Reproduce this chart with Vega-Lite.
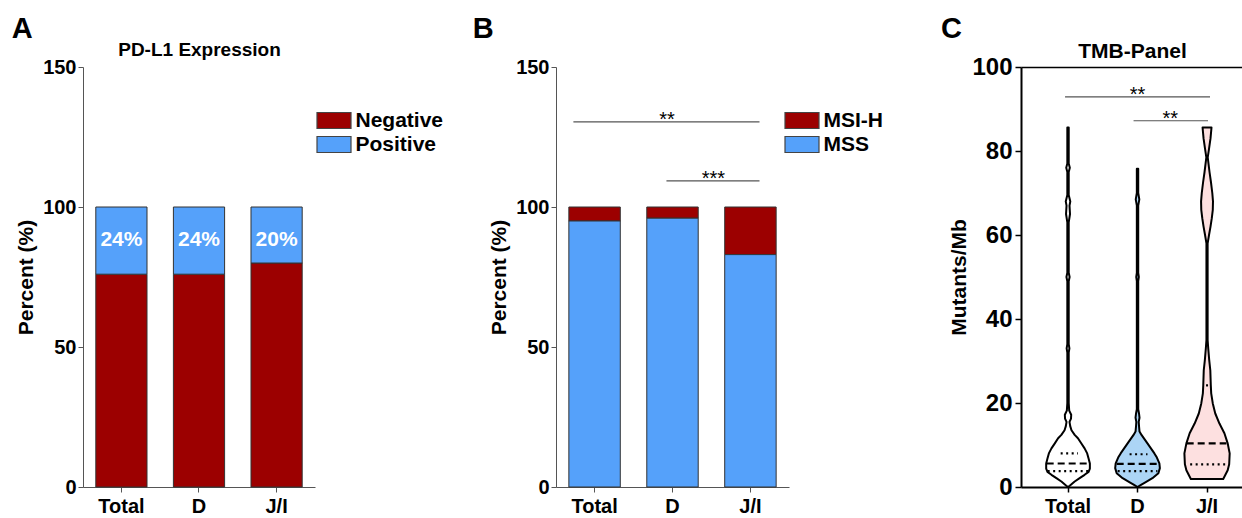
{
  "$schema": "https://vega.github.io/schema/vega-lite/v6.json",
  "padding": {"left": 11, "top": 15, "right": 0, "bottom": 0},
  "config": {
    "font": "Liberation Sans",
    "view": {"stroke": null},
    "axis": {"labelFont": "Liberation Sans", "titleFont": "Liberation Sans", "labelFontWeight": "bold", "titleFontWeight": "bold", "labelColor": "black", "titleColor": "black", "grid": false},
    "legend": {"labelFont": "Liberation Sans"},
    "title": {"font": "Liberation Sans", "color": "black"}
  },
  "spacing": 28,
  "resolve": {"scale": {"x": "independent", "y": "independent", "color": "independent", "xOffset": "independent", "fill": "independent", "strokeDash": "independent"}, "legend": {"color": "independent"}},
  "hconcat": [
    {
      "width": 232,
      "height": 420,
      "title": {"text": "A", "anchor": "start", "frame": "bounds", "fontSize": 29, "fontWeight": "bold", "offset": -4, "dx": -4},
      "data": {"values": [
        {"group": "Total", "expr": "Negative", "pct": 76},
        {"group": "Total", "expr": "Positive", "pct": 24},
        {"group": "D", "expr": "Negative", "pct": 76},
        {"group": "D", "expr": "Positive", "pct": 24},
        {"group": "J/I", "expr": "Negative", "pct": 80},
        {"group": "J/I", "expr": "Positive", "pct": 20}
      ]},
      "layer": [
        {
          "mark": {"type": "bar", "stroke": "#333", "strokeWidth": 1},
          "encoding": {
            "x": {"field": "group", "type": "nominal", "sort": ["Total", "D", "J/I"], "scale": {"paddingInner": 0.34, "paddingOuter": 0.165},
              "axis": {"orient": "bottom", "title": null, "labelAngle": 0, "labelFontSize": 20, "domainColor": "#555", "tickColor": "#555", "tickSize": 5, "labelPadding": 4}},
            "y": {"field": "pct", "type": "quantitative", "stack": "zero", "scale": {"domain": [0, 150], "nice": false},
              "axis": {"title": "Percent (%)", "values": [0, 50, 100, 150], "titleFontSize": 21, "labelFontSize": 20, "domainColor": "#555", "tickColor": "#555", "tickSize": 5, "labelPadding": 2, "titlePadding": 6}},
            "color": {"field": "expr", "type": "nominal", "scale": {"domain": ["Negative", "Positive"], "range": ["#9c0000", "#55a1fa"]},
              "legend": {"title": null, "orient": "none", "legendX": 240.5, "legendY": 43, "padding": 0, "symbolType": "M-2,-0.94H2V0.94H-2Z", "symbolSize": 289, "labelFontSize": 21, "labelFontWeight": "bold", "labelColor": "black", "symbolStrokeColor": "#444", "symbolStrokeWidth": 1.2, "rowPadding": 2, "labelOffset": 11}},
            "order": {"field": "expr", "sort": "ascending"}
          }
        },
        {
          "transform": [{"filter": "datum.expr === 'Positive'"}],
          "mark": {"type": "text", "color": "white", "fontSize": 21, "fontWeight": "bold", "baseline": "middle", "dy": 33, "text": {"expr": "datum.pct + '%'"}},
          "encoding": {
            "x": {"field": "group", "type": "nominal", "sort": ["Total", "D", "J/I"],
              "axis": {"orient": "top", "title": "PD-L1 Expression", "titleFontSize": 19, "domain": false, "ticks": false, "labels": false, "titlePadding": 8}},
            "y": {"datum": 100, "type": "quantitative"}
          }
        }
      ],
      "resolve": {"axis": {"x": "independent"}}
    },
    {
      "spacing": 56,
      "resolve": {"scale": {"x": "independent", "y": "independent", "color": "independent", "xOffset": "independent", "fill": "independent", "strokeDash": "independent"}, "legend": {"color": "independent"}},
      "hconcat": [
        {
          "width": 233,
          "height": 420,
          "title": {"text": "B", "anchor": "start", "frame": "bounds", "fontSize": 29, "fontWeight": "bold", "offset": 13, "dx": -16},
          "layer": [
            {
              "data": {"values": [
                {"group": "Total", "status": "MSI-H", "pct": 5},
                {"group": "Total", "status": "MSS", "pct": 95},
                {"group": "D", "status": "MSI-H", "pct": 4},
                {"group": "D", "status": "MSS", "pct": 96},
                {"group": "J/I", "status": "MSI-H", "pct": 17},
                {"group": "J/I", "status": "MSS", "pct": 83}
              ]},
              "mark": {"type": "bar", "stroke": "#333", "strokeWidth": 1, "width": {"band": 1}},
              "encoding": {
                "x": {"field": "group", "type": "nominal", "sort": ["Total", "D", "J/I"], "scale": {"paddingInner": 0.34, "paddingOuter": 0.165},
                  "axis": {"title": null, "labelAngle": 0, "labelFontSize": 20, "domainColor": "#555", "tickColor": "#555", "tickSize": 5, "labelPadding": 4}},
                "y": {"field": "pct", "type": "quantitative", "stack": "zero", "scale": {"domain": [0, 150], "nice": false},
                  "axis": {"title": "Percent (%)", "values": [0, 50, 100, 150], "titleFontSize": 21, "labelFontSize": 20, "domainColor": "#555", "tickColor": "#555", "tickSize": 5, "labelPadding": 2, "titlePadding": 6}},
                "color": {"field": "status", "type": "nominal", "scale": {"domain": ["MSI-H", "MSS"], "range": ["#9c0000", "#55a1fa"]},
                  "legend": {"title": null, "orient": "none", "legendX": 235.5, "legendY": 43, "padding": 0, "symbolType": "M-2,-0.94H2V0.94H-2Z", "symbolSize": 289, "labelFontSize": 21, "labelFontWeight": "bold", "labelColor": "black", "symbolStrokeColor": "#444", "symbolStrokeWidth": 1.2, "rowPadding": 2, "labelOffset": 11}},
                "order": {"field": "status", "sort": "descending"}
              }
            },
            {
              "layer": [
                {
                  "data": {"values": [
                    {"id": "a", "group": "Total", "off": -21, "pct": 130.4},
                    {"id": "a", "group": "J/I", "off": 9, "pct": 130.4},
                    {"id": "b", "group": "D", "off": -6, "pct": 109.3},
                    {"id": "b", "group": "J/I", "off": 9, "pct": 109.3}
                  ]},
                  "mark": {"type": "line", "color": "#555", "strokeWidth": 1.2},
                  "encoding": {
                    "x": {"field": "group", "type": "nominal", "sort": ["Total", "D", "J/I"]},
                    "xOffset": {"field": "off", "type": "quantitative", "scale": {"domain": [-25.5, 25.5]}},
                    "y": {"field": "pct", "type": "quantitative"},
                    "detail": {"field": "id"}
                  }
                },
                {
                  "data": {"values": [
                    {"group": "D", "off": -5.5, "pct": 130.4, "stars": "**"},
                    {"group": "D", "off": 40.5, "pct": 109.3, "stars": "***"}
                  ]},
                  "mark": {"type": "text", "fontSize": 20, "baseline": "alphabetic", "align": "center", "dy": 4, "color": "black"},
                  "encoding": {
                    "x": {"field": "group", "type": "nominal", "sort": ["Total", "D", "J/I"]},
                    "xOffset": {"field": "off", "type": "quantitative"},
                    "y": {"field": "pct", "type": "quantitative"},
                    "text": {"field": "stars"}
                  }
                }
              ]
            }
          ],
          "resolve": {"scale": {"xOffset": "independent"}}
        },
        {
          "width": 222,
          "height": 420,
          "title": {"text": "C", "anchor": "start", "frame": "bounds", "fontSize": 29, "fontWeight": "bold", "offset": -4, "dx": -8},
          "layer": [
            {
              "data": {"values": [
                {"g": "Total", "i": 0, "v": 0, "w": 0},
                {"g": "Total", "i": 1, "v": 0.3, "w": -1.7},
                {"g": "Total", "i": 2, "v": 1.3, "w": -6.7},
                {"g": "Total", "i": 3, "v": 2.1, "w": -11.7},
                {"g": "Total", "i": 4, "v": 2.9, "w": -16.7},
                {"g": "Total", "i": 5, "v": 3.6, "w": -20.7},
                {"g": "Total", "i": 6, "v": 4.4, "w": -22},
                {"g": "Total", "i": 7, "v": 5.6, "w": -22},
                {"g": "Total", "i": 8, "v": 6.8, "w": -20.7},
                {"g": "Total", "i": 9, "v": 8, "w": -19.3},
                {"g": "Total", "i": 10, "v": 9.2, "w": -16.7},
                {"g": "Total", "i": 11, "v": 10.4, "w": -13.3},
                {"g": "Total", "i": 12, "v": 11.6, "w": -10},
                {"g": "Total", "i": 13, "v": 12.4, "w": -6.7},
                {"g": "Total", "i": 14, "v": 13.5, "w": -3.5},
                {"g": "Total", "i": 15, "v": 14.5, "w": -2.2},
                {"g": "Total", "i": 16, "v": 15.5, "w": -1.5},
                {"g": "Total", "i": 17, "v": 16.3, "w": -3},
                {"g": "Total", "i": 18, "v": 17.2, "w": -3.2},
                {"g": "Total", "i": 19, "v": 18.2, "w": -1.2},
                {"g": "Total", "i": 20, "v": 20, "w": -0.7},
                {"g": "Total", "i": 21, "v": 32, "w": -0.7},
                {"g": "Total", "i": 22, "v": 33, "w": -1.4},
                {"g": "Total", "i": 23, "v": 34, "w": -0.7},
                {"g": "Total", "i": 24, "v": 49, "w": -0.7},
                {"g": "Total", "i": 25, "v": 50, "w": -1.6},
                {"g": "Total", "i": 26, "v": 51, "w": -0.7},
                {"g": "Total", "i": 27, "v": 63, "w": -0.7},
                {"g": "Total", "i": 28, "v": 65, "w": -2},
                {"g": "Total", "i": 29, "v": 67, "w": -1.5},
                {"g": "Total", "i": 30, "v": 68, "w": -2.3},
                {"g": "Total", "i": 31, "v": 69.5, "w": -0.7},
                {"g": "Total", "i": 32, "v": 75, "w": -0.7},
                {"g": "Total", "i": 33, "v": 76, "w": -1.8},
                {"g": "Total", "i": 34, "v": 77, "w": -0.7},
                {"g": "Total", "i": 35, "v": 85.6, "w": -0.7},
                {"g": "Total", "i": 36, "v": 85.6, "w": 0.7},
                {"g": "Total", "i": 37, "v": 77, "w": 0.7},
                {"g": "Total", "i": 38, "v": 76, "w": 1.8},
                {"g": "Total", "i": 39, "v": 75, "w": 0.7},
                {"g": "Total", "i": 40, "v": 69.5, "w": 0.7},
                {"g": "Total", "i": 41, "v": 68, "w": 2.3},
                {"g": "Total", "i": 42, "v": 67, "w": 1.5},
                {"g": "Total", "i": 43, "v": 65, "w": 2},
                {"g": "Total", "i": 44, "v": 63, "w": 0.7},
                {"g": "Total", "i": 45, "v": 51, "w": 0.7},
                {"g": "Total", "i": 46, "v": 50, "w": 1.6},
                {"g": "Total", "i": 47, "v": 49, "w": 0.7},
                {"g": "Total", "i": 48, "v": 34, "w": 0.7},
                {"g": "Total", "i": 49, "v": 33, "w": 1.4},
                {"g": "Total", "i": 50, "v": 32, "w": 0.7},
                {"g": "Total", "i": 51, "v": 20, "w": 0.7},
                {"g": "Total", "i": 52, "v": 18.2, "w": 1.2},
                {"g": "Total", "i": 53, "v": 17.2, "w": 3.2},
                {"g": "Total", "i": 54, "v": 16.3, "w": 3},
                {"g": "Total", "i": 55, "v": 15.5, "w": 1.5},
                {"g": "Total", "i": 56, "v": 14.5, "w": 2.2},
                {"g": "Total", "i": 57, "v": 13.5, "w": 3.5},
                {"g": "Total", "i": 58, "v": 12.4, "w": 6.7},
                {"g": "Total", "i": 59, "v": 11.6, "w": 10},
                {"g": "Total", "i": 60, "v": 10.4, "w": 13.3},
                {"g": "Total", "i": 61, "v": 9.2, "w": 16.7},
                {"g": "Total", "i": 62, "v": 8, "w": 19.3},
                {"g": "Total", "i": 63, "v": 6.8, "w": 20.7},
                {"g": "Total", "i": 64, "v": 5.6, "w": 22},
                {"g": "Total", "i": 65, "v": 4.4, "w": 22},
                {"g": "Total", "i": 66, "v": 3.6, "w": 20.7},
                {"g": "Total", "i": 67, "v": 2.9, "w": 16.7},
                {"g": "Total", "i": 68, "v": 2.1, "w": 11.7},
                {"g": "Total", "i": 69, "v": 1.3, "w": 6.7},
                {"g": "Total", "i": 70, "v": 0.3, "w": 1.7},
                {"g": "Total", "i": 71, "v": 0, "w": 0},
                {"g": "D", "i": 0, "v": 0, "w": 0},
                {"g": "D", "i": 1, "v": 0.5, "w": -3.5},
                {"g": "D", "i": 2, "v": 1.0, "w": -7},
                {"g": "D", "i": 3, "v": 2.1, "w": -15},
                {"g": "D", "i": 4, "v": 3.3, "w": -21},
                {"g": "D", "i": 5, "v": 4.5, "w": -22.5},
                {"g": "D", "i": 6, "v": 5.6, "w": -22},
                {"g": "D", "i": 7, "v": 7, "w": -19.5},
                {"g": "D", "i": 8, "v": 8, "w": -17},
                {"g": "D", "i": 9, "v": 9.2, "w": -13.5},
                {"g": "D", "i": 10, "v": 10.4, "w": -10},
                {"g": "D", "i": 11, "v": 11.4, "w": -7},
                {"g": "D", "i": 12, "v": 12.4, "w": -4},
                {"g": "D", "i": 13, "v": 13.2, "w": -2},
                {"g": "D", "i": 14, "v": 14.5, "w": -1.5},
                {"g": "D", "i": 15, "v": 15.5, "w": -1.2},
                {"g": "D", "i": 16, "v": 16.5, "w": -2},
                {"g": "D", "i": 17, "v": 17.5, "w": -1.5},
                {"g": "D", "i": 18, "v": 18.5, "w": -0.7},
                {"g": "D", "i": 19, "v": 49, "w": -0.7},
                {"g": "D", "i": 20, "v": 50, "w": -1.3},
                {"g": "D", "i": 21, "v": 51, "w": -0.7},
                {"g": "D", "i": 22, "v": 67, "w": -0.7},
                {"g": "D", "i": 23, "v": 68.5, "w": -1.8},
                {"g": "D", "i": 24, "v": 70, "w": -0.7},
                {"g": "D", "i": 25, "v": 75.8, "w": -0.7},
                {"g": "D", "i": 26, "v": 75.8, "w": 0.7},
                {"g": "D", "i": 27, "v": 70, "w": 0.7},
                {"g": "D", "i": 28, "v": 68.5, "w": 1.8},
                {"g": "D", "i": 29, "v": 67, "w": 0.7},
                {"g": "D", "i": 30, "v": 51, "w": 0.7},
                {"g": "D", "i": 31, "v": 50, "w": 1.3},
                {"g": "D", "i": 32, "v": 49, "w": 0.7},
                {"g": "D", "i": 33, "v": 18.5, "w": 0.7},
                {"g": "D", "i": 34, "v": 17.5, "w": 1.5},
                {"g": "D", "i": 35, "v": 16.5, "w": 2},
                {"g": "D", "i": 36, "v": 15.5, "w": 1.2},
                {"g": "D", "i": 37, "v": 14.5, "w": 1.5},
                {"g": "D", "i": 38, "v": 13.2, "w": 2},
                {"g": "D", "i": 39, "v": 12.4, "w": 4},
                {"g": "D", "i": 40, "v": 11.4, "w": 7},
                {"g": "D", "i": 41, "v": 10.4, "w": 10},
                {"g": "D", "i": 42, "v": 9.2, "w": 13.5},
                {"g": "D", "i": 43, "v": 8, "w": 17},
                {"g": "D", "i": 44, "v": 7, "w": 19.5},
                {"g": "D", "i": 45, "v": 5.6, "w": 22},
                {"g": "D", "i": 46, "v": 4.5, "w": 22.5},
                {"g": "D", "i": 47, "v": 3.3, "w": 21},
                {"g": "D", "i": 48, "v": 2.1, "w": 15},
                {"g": "D", "i": 49, "v": 1.0, "w": 7},
                {"g": "D", "i": 50, "v": 0.5, "w": 3.5},
                {"g": "D", "i": 51, "v": 0, "w": 0},
                {"g": "J/I", "i": 0, "v": 1.9, "w": 0},
                {"g": "J/I", "i": 1, "v": 1.9, "w": -16.3},
                {"g": "J/I", "i": 2, "v": 4, "w": -20.8},
                {"g": "J/I", "i": 3, "v": 5.4, "w": -22.3},
                {"g": "J/I", "i": 4, "v": 8, "w": -22.8},
                {"g": "J/I", "i": 5, "v": 10.4, "w": -20.8},
                {"g": "J/I", "i": 6, "v": 12.8, "w": -17.5},
                {"g": "J/I", "i": 7, "v": 15.1, "w": -12.5},
                {"g": "J/I", "i": 8, "v": 17.5, "w": -8.3},
                {"g": "J/I", "i": 9, "v": 19.9, "w": -5.8},
                {"g": "J/I", "i": 10, "v": 22.3, "w": -4.2},
                {"g": "J/I", "i": 11, "v": 24.2, "w": -3.8},
                {"g": "J/I", "i": 12, "v": 27.8, "w": -3.3},
                {"g": "J/I", "i": 13, "v": 30.2, "w": -2.2},
                {"g": "J/I", "i": 14, "v": 33, "w": -1.2},
                {"g": "J/I", "i": 15, "v": 35, "w": -0.6},
                {"g": "J/I", "i": 16, "v": 58, "w": -0.6},
                {"g": "J/I", "i": 17, "v": 60, "w": -2},
                {"g": "J/I", "i": 18, "v": 62, "w": -3.5},
                {"g": "J/I", "i": 19, "v": 64, "w": -4.8},
                {"g": "J/I", "i": 20, "v": 66, "w": -5.8},
                {"g": "J/I", "i": 21, "v": 68, "w": -6},
                {"g": "J/I", "i": 22, "v": 70, "w": -5.3},
                {"g": "J/I", "i": 23, "v": 72.5, "w": -4},
                {"g": "J/I", "i": 24, "v": 75, "w": -2.5},
                {"g": "J/I", "i": 25, "v": 78.5, "w": -0.7},
                {"g": "J/I", "i": 26, "v": 80.5, "w": -2},
                {"g": "J/I", "i": 27, "v": 83, "w": -3.5},
                {"g": "J/I", "i": 28, "v": 85.6, "w": -4.5},
                {"g": "J/I", "i": 29, "v": 85.6, "w": 0},
                {"g": "J/I", "i": 30, "v": 85.6, "w": 4.5},
                {"g": "J/I", "i": 31, "v": 83, "w": 3.5},
                {"g": "J/I", "i": 32, "v": 80.5, "w": 2},
                {"g": "J/I", "i": 33, "v": 78.5, "w": 0.7},
                {"g": "J/I", "i": 34, "v": 75, "w": 2.5},
                {"g": "J/I", "i": 35, "v": 72.5, "w": 4},
                {"g": "J/I", "i": 36, "v": 70, "w": 5.3},
                {"g": "J/I", "i": 37, "v": 68, "w": 6},
                {"g": "J/I", "i": 38, "v": 66, "w": 5.8},
                {"g": "J/I", "i": 39, "v": 64, "w": 4.8},
                {"g": "J/I", "i": 40, "v": 62, "w": 3.5},
                {"g": "J/I", "i": 41, "v": 60, "w": 2},
                {"g": "J/I", "i": 42, "v": 58, "w": 0.6},
                {"g": "J/I", "i": 43, "v": 35, "w": 0.6},
                {"g": "J/I", "i": 44, "v": 33, "w": 1.2},
                {"g": "J/I", "i": 45, "v": 30.2, "w": 2.2},
                {"g": "J/I", "i": 46, "v": 27.8, "w": 3.3},
                {"g": "J/I", "i": 47, "v": 24.2, "w": 3.8},
                {"g": "J/I", "i": 48, "v": 22.3, "w": 4.2},
                {"g": "J/I", "i": 49, "v": 19.9, "w": 5.8},
                {"g": "J/I", "i": 50, "v": 17.5, "w": 8.3},
                {"g": "J/I", "i": 51, "v": 15.1, "w": 12.5},
                {"g": "J/I", "i": 52, "v": 12.8, "w": 17.5},
                {"g": "J/I", "i": 53, "v": 10.4, "w": 20.8},
                {"g": "J/I", "i": 54, "v": 8, "w": 22.8},
                {"g": "J/I", "i": 55, "v": 5.4, "w": 22.3},
                {"g": "J/I", "i": 56, "v": 4, "w": 20.8},
                {"g": "J/I", "i": 57, "v": 1.9, "w": 16.3},
                {"g": "J/I", "i": 58, "v": 1.9, "w": 0}
              ]},
              "mark": {"type": "line", "stroke": "black", "strokeWidth": 2, "strokeJoin": "round"},
              "encoding": {
                "x": {"field": "g", "type": "nominal", "sort": ["Total", "D", "J/I"], "scale": {"paddingInner": 0, "paddingOuter": 0.097, "align": 0.91},
                  "axis": {"orient": "bottom", "title": null, "labelAngle": 0, "labelFontSize": 20, "domainColor": "black", "domainWidth": 2, "tickColor": "black", "tickWidth": 1.5, "tickSize": 5, "labelPadding": 4}},
                "xOffset": {"field": "w", "type": "quantitative", "scale": {"domain": [-35, 35]}},
                "y": {"field": "v", "type": "quantitative", "scale": {"domain": [0, 100], "nice": false},
                  "axis": {"title": "Mutants/Mb", "values": [0, 20, 40, 60, 80, 100], "titleFontSize": 21, "labelFontSize": 24, "domainColor": "black", "domainWidth": 2, "tickColor": "black", "tickWidth": 1.5, "tickSize": 6, "labelPadding": 3, "titlePadding": 2}},
                "fill": {"field": "g", "type": "nominal", "scale": {"domain": ["Total", "D", "J/I"], "range": ["#ffffff", "#acd5f6", "#fde0e0"]}, "legend": null},
                "order": {"field": "i", "type": "quantitative"}
              }
            },
            {
              "data": {"values": [
                {"g": "Total", "stat": "Q3", "v": 8.0, "w": -7.4},
                {"g": "Total", "stat": "Q3", "v": 8.0, "w": 10},
                {"g": "Total", "stat": "median", "v": 5.6, "w": -21.5},
                {"g": "Total", "stat": "median", "v": 5.6, "w": 20.5},
                {"g": "Total", "stat": "Q1", "v": 3.8, "w": -20.5},
                {"g": "Total", "stat": "Q1", "v": 3.8, "w": 20.5},
                {"g": "D", "stat": "Q3", "v": 7.8, "w": -8},
                {"g": "D", "stat": "Q3", "v": 7.8, "w": 10},
                {"g": "D", "stat": "median", "v": 5.5, "w": -21},
                {"g": "D", "stat": "median", "v": 5.5, "w": 21},
                {"g": "D", "stat": "Q1", "v": 3.8, "w": -20},
                {"g": "D", "stat": "Q1", "v": 3.8, "w": 20},
                {"g": "J/I", "stat": "Q3", "v": 24.2, "w": -1},
                {"g": "J/I", "stat": "Q3", "v": 24.2, "w": 3.5},
                {"g": "J/I", "stat": "median", "v": 10.4, "w": -20.5},
                {"g": "J/I", "stat": "median", "v": 10.4, "w": 19.5},
                {"g": "J/I", "stat": "Q1", "v": 5.4, "w": -17},
                {"g": "J/I", "stat": "Q1", "v": 5.4, "w": 19}
              ]},
              "mark": {"type": "line", "stroke": "black", "strokeWidth": 2.2},
              "encoding": {
                "x": {"field": "g", "type": "nominal", "sort": ["Total", "D", "J/I"], "axis": null},
                "xOffset": {"field": "w", "type": "quantitative"},
                "y": {"field": "v", "type": "quantitative"},
                "strokeDash": {"field": "stat", "type": "nominal", "scale": {"domain": ["Q1", "median", "Q3"], "range": [[2, 3.5], [7, 4], [2, 3.5]]}, "legend": null},
                "detail": {"field": "g"},
                "order": {"field": "w", "type": "quantitative"}
              }
            },
            {
              "data": {"values": [
                {"id": "a", "g": "Total", "w": -3, "v": 92.9},
                {"id": "a", "g": "J/I", "w": 3, "v": 92.9},
                {"id": "b", "g": "D", "w": -4, "v": 87.2},
                {"id": "b", "g": "J/I", "w": 1, "v": 87.2}
              ]},
              "mark": {"type": "line", "color": "#555", "strokeWidth": 1.2},
              "encoding": {
                "x": {"field": "g", "type": "nominal", "sort": ["Total", "D", "J/I"],
                  "axis": {"orient": "top", "title": "TMB-Panel", "titleFontSize": 21, "labels": false, "ticks": false, "domain": true, "domainColor": "black", "domainWidth": 1.5, "titlePadding": 6}},
                "xOffset": {"field": "w", "type": "quantitative"},
                "y": {"field": "v", "type": "quantitative"},
                "detail": {"field": "id"}
              }
            },
            {
              "data": {"values": [
                {"g": "D", "w": 0, "v": 92.9, "stars": "**"},
                {"g": "D", "w": 33, "v": 87.2, "stars": "**"}
              ]},
              "mark": {"type": "text", "fontSize": 20, "baseline": "alphabetic", "align": "center", "dy": 4, "color": "black"},
              "encoding": {
                "x": {"field": "g", "type": "nominal", "sort": ["Total", "D", "J/I"], "axis": null},
                "xOffset": {"field": "w", "type": "quantitative"},
                "y": {"field": "v", "type": "quantitative"},
                "text": {"field": "stars"}
              }
            }
          ],
          "resolve": {"axis": {"x": "independent"}}
        }
      ]
    }
  ]
}
